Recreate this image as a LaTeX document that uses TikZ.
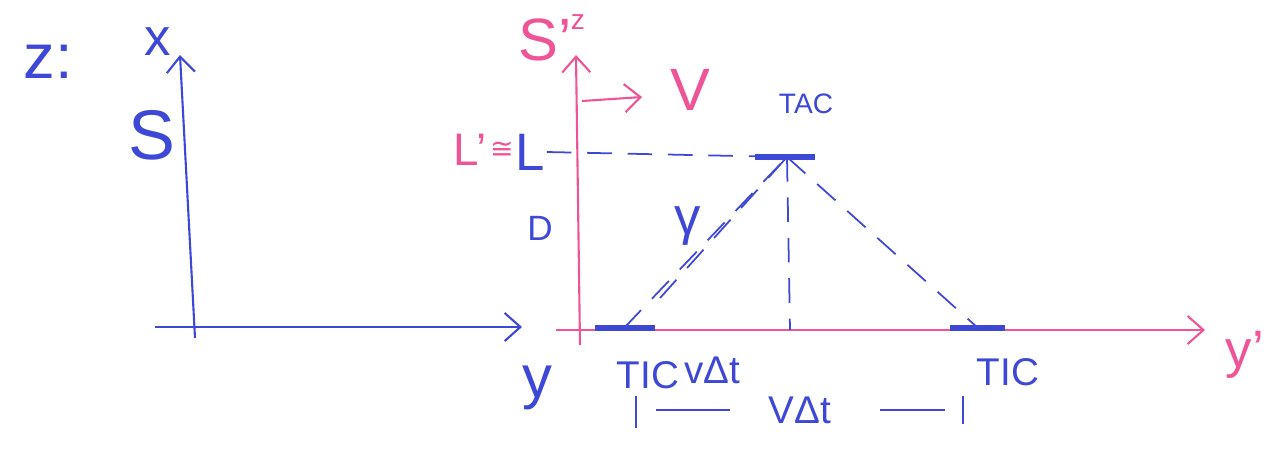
\documentclass[tikz,border=0pt]{standalone}
\usepackage{fontspec}
\setmainfont{Liberation Sans}
\newfontfamily\dejavu{DejaVu Sans}
\usetikzlibrary{arrows.meta,positioning}
\definecolor{penblue}{RGB}{62,72,214}
\definecolor{penpink}{RGB}{238,84,150}

\begin{document}
\begin{tikzpicture}[x=0.02cm,y=-0.02cm,>={Straight Barb[length=9pt,width=16pt]},
  ink/.style={penblue,line width=1.2pt},
  pinkink/.style={penpink,line width=1.2pt},
  hand/.style={penblue,font=\fontsize{22}{24}\selectfont,inner sep=1pt},
  pinkhand/.style={penpink,font=\fontsize{26}{28}\selectfont,inner sep=1pt},
  lightpath/.style={ink,line width=1pt,dash pattern=on 14pt off 9pt},
  tic/.style={penblue,line width=3pt}]
\useasboundingbox (0,0) rectangle (1268,451);
% frame S
\coordinate (s0) at (195,338);\coordinate (stop) at (180,55);
\coordinate (h0) at (155,327);\coordinate (hend) at (522,327);
\draw[ink,->] (s0)--(stop);
\draw[ink,->] (h0)--(hend);
\node[hand,font=\fontsize{36}{38}\selectfont] (zlab) at (48,62) {z:};
\node[hand,font=\fontsize{30}{32}\selectfont] (xlab) at (158,42) {x};
\node[hand,font=\fontsize{40}{42}\selectfont] (slab) at (152,135) {S};
\node[hand,font=\fontsize{34}{36}\selectfont] (ylab) at (537,388) {y};
% frame S'
\coordinate (p0) at (580,345);\coordinate (ptop) at (576,55);
\coordinate (q0) at (556,330);\coordinate (qend) at (1205,330);
\draw[pinkink,->] (p0)--(ptop);
\draw[pinkink,->] (q0)--(qend);
\node[pinkhand,font=\fontsize{34}{36}\selectfont] (sprime) at (545,40) {S'};
\node[pinkhand,font=\fontsize{16}{18}\selectfont] (zsmall) at (578,22) {z};
\node[pinkhand,font=\fontsize{30}{32}\selectfont] (yprime) at (1245,355) {y'};
\coordinate (v0) at (582,101);\coordinate (vtip) at (642,97);
\node[pinkhand,font=\fontsize{34}{36}\selectfont] (vlab) at (690,90) {V};
\draw[pinkink,->] (v0)--(vtip);
\node[pinkhand] (lprime) at (470,150) {L'};
\node[pinkhand,font=\fontsize{16}{18}\dejavu] (approx) at (502,150) {≅};
\node[hand,font=\fontsize{30}{32}\selectfont] (llab) at (530,152) {L};
\node[hand,font=\fontsize{20}{22}\selectfont] (dlab) at (540,228) {D};
% clocks
\coordinate (tac) at (787,157);\coordinate (ticl) at (624,328);\coordinate (ticr) at (978,328);
\draw[tic] (755,157)--(815,157);
\draw[tic] (595,328)--(655,328);
\draw[tic] (950,328)--(1005,328);
\node[hand,font=\fontsize{16}{18}\selectfont] (taclab) at (806,104) {TAC};
\node[hand] (ticllab) at (648,375) {TIC};
\node[hand] (dtscr) at (712,370) {vΔt};
\node[hand] (ticrlab) at (1008,372) {TIC};
% light paths
\draw[lightpath] (llab.east)--(tac);
\draw[lightpath] (ticl)--(tac);
\draw[lightpath] (660,298)--(tac);
\draw[lightpath] (tac)--(790,330);
\draw[lightpath] (tac)--(ticr);
\node[hand,font=\fontsize{30}{32}\selectfont] (gam) at (688,226) {γ};
% distance
\node[hand] (dist) at (800,410) {VΔt};
\coordinate (bl) at (636,410);\coordinate (br) at (963,410);
\draw[ink] (636,396)--(636,428);\draw[ink] (963,396)--(963,424);
\draw[ink] (656,410)--(730,410);\draw[ink] (880,410)--(945,410);
\end{tikzpicture}
\end{document}
